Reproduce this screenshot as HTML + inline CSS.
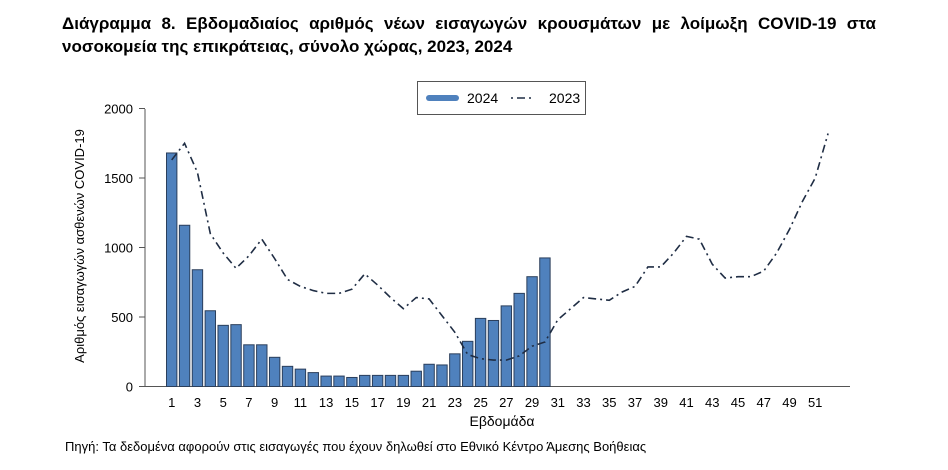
<!DOCTYPE html>
<html><head><meta charset="utf-8"><style>
body{margin:0;width:948px;height:470px;background:#fff;overflow:hidden;font-family:"Liberation Sans",sans-serif}
.t{position:absolute;left:62px;top:12px;width:814px;font-weight:bold;font-size:17px;line-height:23px;text-align:justify;text-align-last:left;color:#000}
</style></head><body>
<div class="t">Διάγραμμα 8. Εβδομαδιαίος αριθμός νέων εισαγωγών κρουσμάτων με λοίμωξη COVID-19 στα νοσοκομεία της επικράτειας, σύνολο χώρας, 2023, 2024</div>
<svg width="948" height="470" style="position:absolute;left:0;top:0" font-family="Liberation Sans, sans-serif">
<g id="g"></g>
</svg>
<script>
const g=document.getElementById('g');let s='';
const X=w=>171.7+12.87*(w-1), Y=v=>386.5-v*0.139;
// axes
s+=`<line x1="145" y1="109" x2="145" y2="387" stroke="#555"/>`;
s+=`<line x1="145" y1="386.5" x2="850" y2="386.5" stroke="#555"/>`;
[0,500,1000,1500,2000].forEach(v=>{s+=`<line x1="139" x2="145" y1="${Y(v)}" y2="${Y(v)}" stroke="#555"/><text x="133" y="${Y(v)+5}" font-size="13" text-anchor="end">${v}</text>`});
for(let w=1;w<=51;w+=2)s+=`<text x="${X(w)}" y="407" font-size="13" text-anchor="middle">${w}</text>`;
s+=`<text x="502" y="426" font-size="14" text-anchor="middle">Εβδομάδα</text>`;
s+=`<text transform="translate(84,246) rotate(-90)" font-size="13" text-anchor="middle">Αριθμός εισαγωγών ασθενών COVID-19</text>`;
const b=[1680,1160,840,545,440,445,300,300,210,145,125,100,75,75,65,80,80,80,80,110,160,155,235,325,490,475,580,670,790,925];
b.forEach((v,i)=>{const x=X(i+1)-5.2;s+=`<rect x="${x}" y="${Y(v)}" width="10.4" height="${v*0.139}" fill="#4f81bd" stroke="#2b3f5c" stroke-width="1"/>`});
const l=[1630,1750,1540,1100,960,850,940,1060,920,770,720,690,670,670,700,810,730,640,560,640,630,510,390,230,200,190,190,220,290,320,480,560,640,630,620,680,720,860,860,960,1080,1060,880,780,790,790,830,960,1130,1330,1500,1820];
s+=`<polyline fill="none" stroke="#1f2d44" stroke-width="1.6" stroke-dasharray="8,4,2,4" points="${l.map((v,i)=>X(i+1)+','+Y(v)).join(' ')}"/>`;
// legend
s+=`<rect x="417.5" y="81.5" width="168" height="33" fill="#fff" stroke="#555"/>`;
s+=`<line x1="429" y1="98" x2="456" y2="98" stroke="#4f81bd" stroke-width="6" stroke-linecap="round"/>`;
s+=`<text x="467" y="103" font-size="14">2024</text>`;
s+=`<line x1="511" y1="98" x2="533" y2="98" stroke="#1f2d44" stroke-width="1.6" stroke-dasharray="2,4,8,4"/>`;
s+=`<text x="549" y="103" font-size="14">2023</text>`;
s+=`<text x="65" y="451" font-size="13">Πηγή: Τα δεδομένα αφορούν στις εισαγωγές που έχουν δηλωθεί στο Εθνικό Κέντρο Άμεσης Βοήθειας</text>`;
g.innerHTML=s;
</script>
</body></html>
